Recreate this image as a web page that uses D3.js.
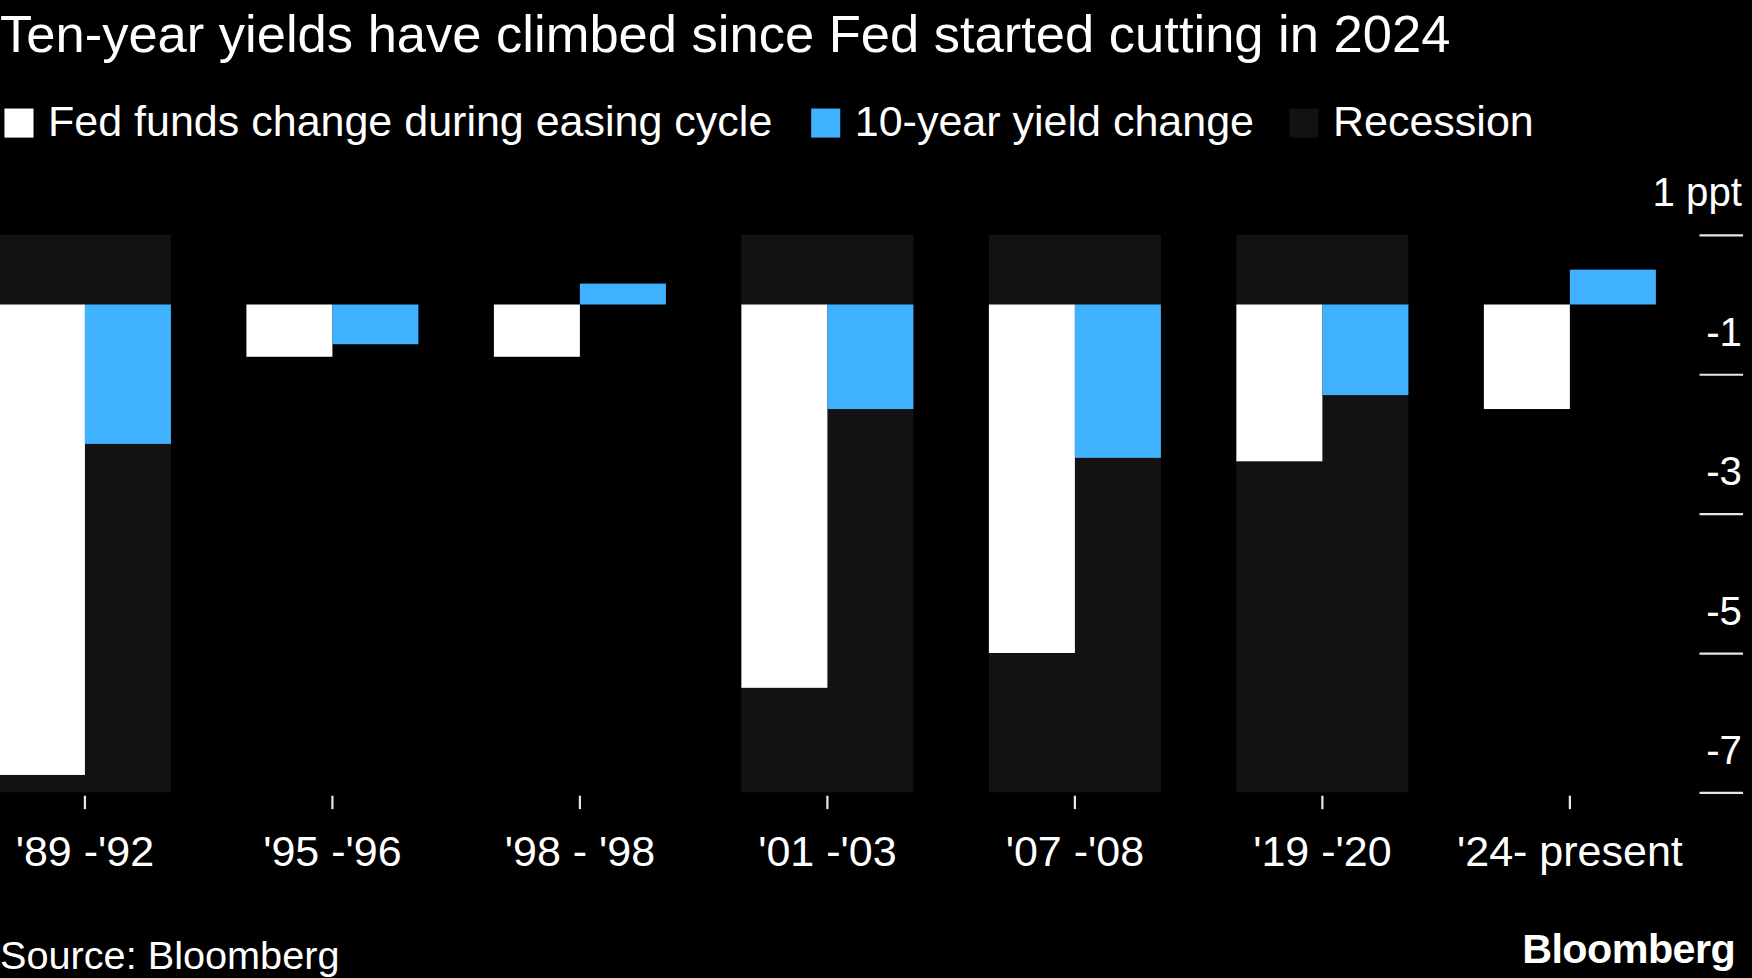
<!DOCTYPE html>
<html>
<head>
<meta charset="utf-8">
<script src="https://cdn.jsdelivr.net/npm/d3@7"></script>
<style>
  html, body { margin: 0; padding: 0; background: #000; }
  svg { display: block; font-family: "Liberation Sans", Arial, sans-serif; }
</style>
</head>
<body>
<svg id="chart"></svg>
<script>
// data
const periods = ["'89 -'92", "'95 -'96", "'98 - '98", "'01 -'03", "'07 -'08", "'19 -'20", "'24- present"]
const fedFunds = [-6.75, -0.75, -0.75, -5.5, -5.0, -2.25, -1.5]
const tenYear = [-2.0, -0.57, 0.3, -1.5, -2.2, -1.3, 0.5]
const recession = [true, false, false, true, true, true, false]
const yTicks = [1, -1, -3, -5, -7]
const legendLabels = ['Fed funds change during easing cycle', '10-year yield change', 'Recession']

const W = 1568, H = 875
const white = '#ffffff', blue = '#40b1ff', shade = '#121212'

const svg = d3.select('#chart')
  .attr('width', 1752)
  .attr('height', 978)
  .attr('viewBox', '0 0 ' + W + ' ' + H)

svg.append('rect').attr('width', W).attr('height', H).attr('fill', '#000')

// scales
const x0 = d3.scaleBand()
  .domain(periods)
  .range([-34.75, 1515.75])
  .paddingInner(0.305)
  .paddingOuter(0.1525)
const x1 = d3.scaleBand()
  .domain(['fed', 'ten'])
  .range([0, x0.bandwidth()])
const y = d3.scaleLinear()
  .domain([-7, 1])
  .range([709, 210])

// recession shading
svg.append('g').selectAll('rect')
  .data(periods.filter((p, i) => recession[i]))
  .join('rect')
  .attr('x', d => x0(d))
  .attr('width', x0.bandwidth())
  .attr('y', y(1))
  .attr('height', y(-7) - y(1))
  .attr('fill', shade)

// bars
const groups = svg.append('g').selectAll('g')
  .data(periods.map((p, i) => ({p: p, fed: fedFunds[i], ten: tenYear[i]})))
  .join('g')
  .attr('transform', d => 'translate(' + x0(d.p) + ',0)')

groups.append('rect')
  .attr('x', x1('fed'))
  .attr('width', x1.bandwidth())
  .attr('y', d => y(Math.max(0, d.fed)))
  .attr('height', d => Math.abs(y(d.fed) - y(0)))
  .attr('fill', white)

groups.append('rect')
  .attr('x', x1('ten'))
  .attr('width', x1.bandwidth())
  .attr('y', d => y(Math.max(0, d.ten)))
  .attr('height', d => Math.abs(y(d.ten) - y(0)))
  .attr('fill', blue)

// y axis on the right, labels sit above the tick lines
const yAxis = svg.append('g')
  .attr('transform', 'translate(1560,0)')
  .call(d3.axisLeft(y).tickValues(yTicks).tickSize(39).tickPadding(0)
    .tickFormat(d => d === 1 ? '1 ppt' : d))
yAxis.select('.domain').remove()
yAxis.selectAll('line').attr('stroke', '#e6e6e6').attr('stroke-width', 2)
yAxis.selectAll('text')
  .attr('x', -1)
  .attr('dy', '-0.72em')
  .attr('fill', '#fff')
  .style('font-size', '36px')

// x axis
const xAxis = svg.append('g')
  .attr('transform', 'translate(0,712)')
  .call(d3.axisBottom(x0).tickSize(12).tickPadding(24))
xAxis.select('.domain').remove()
xAxis.selectAll('line').attr('stroke', '#e6e6e6').attr('stroke-width', 2)
xAxis.selectAll('text')
  .attr('fill', '#fff')
  .style('font-size', '38.5px')

// title
svg.append('text')
  .attr('x', 0)
  .attr('y', 46)
  .attr('fill', '#fff')
  .style('font-size', '47px')
  .text('Ten-year yields have climbed since Fed started cutting in 2024')

// legend
const legendX = [4, 726, 1154]
const legendColors = [white, blue, shade]
const legend = svg.append('g').selectAll('g')
  .data(legendLabels)
  .join('g')
  .attr('transform', (d, i) => 'translate(' + legendX[i] + ',97)')
legend.append('rect')
  .attr('width', 26)
  .attr('height', 26)
  .attr('fill', (d, i) => legendColors[i])
legend.append('text')
  .attr('x', 39)
  .attr('y', 25)
  .attr('fill', '#fff')
  .style('font-size', '38.5px')
  .text(d => d)

// footer
svg.append('text')
  .attr('x', 0)
  .attr('y', 867)
  .attr('fill', '#fff')
  .style('font-size', '35.5px')
  .text('Source: Bloomberg')
svg.append('text')
  .attr('x', 1553)
  .attr('y', 862)
  .attr('text-anchor', 'end')
  .attr('fill', '#fff')
  .style('font-size', '37px')
  .style('font-weight', 'bold')
  .style('letter-spacing', '-0.5px')
  .text('Bloomberg')
</script>
</body>
</html>
